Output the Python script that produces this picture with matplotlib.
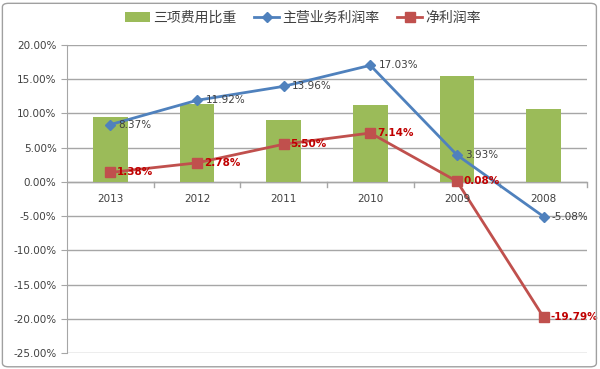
import matplotlib.pyplot as plt
import numpy as np
from matplotlib.patches import FancyBboxPatch
from matplotlib.ticker import FuncFormatter, MultipleLocator

years = ['2013', '2012', '2011', '2010', '2009', '2008']
expense_ratio = [9.5, 11.4, 9.0, 11.2, 15.5, 10.6]
main_margin = [8.37, 11.92, 13.96, 17.03, 3.93, -5.08]
net_margin = [1.38, 2.78, 5.50, 7.14, 0.08, -19.79]

plt.rcParams['font.family'] = ['DejaVu Sans', 'Noto Sans CJK SC']

color_green = '#9BBB59'
color_blue = '#4F81BD'
color_red = '#C0504D'

fig = plt.figure(figsize=(6, 3.69), dpi=100)
ax = fig.add_axes([67/600, 1 - 353/369, 520/600, 308/369])

x = np.arange(len(years))
bars = ax.bar(x, expense_ratio, 0.4, color=color_green, label='三项费用比重', zorder=2)
l1, = ax.plot(x, main_margin, color=color_blue, lw=2, marker='D', ms=5,
              label='主营业务利润率', zorder=3)
l2, = ax.plot(x, net_margin, color=color_red, lw=2, marker='s', ms=7,
              label='净利润率', zorder=3)

for xi, v in zip(x, main_margin):
    ax.annotate(f'{v:.2f}%', (xi, v), xytext=(6, 0), textcoords='offset points',
                va='center', ha='left', fontsize=7.5, color='#404040', zorder=4)
for xi, v in zip(x, net_margin):
    ax.annotate(f'{v:.2f}%', (xi, v), xytext=(5, 0), textcoords='offset points',
                va='center', ha='left', fontsize=7.5, color='#C00000',
                fontweight='bold', zorder=4)

ax.set_xlim(-0.5, len(years) - 0.5)
ax.set_ylim(-25, 20)
ax.yaxis.set_major_locator(MultipleLocator(5))
ax.yaxis.set_major_formatter(FuncFormatter(lambda v, p: f'{v:.2f}%'))
ax.grid(axis='y', color='#A6A6A6', lw=1, zorder=0)
ax.set_axisbelow(True)

for s in ['top', 'right', 'bottom']:
    ax.spines[s].set_visible(False)
ax.spines['left'].set_color('#A6A6A6')
ax.axhline(0, color='#A6A6A6', lw=1, zorder=1)

ax.set_xticks([])
for xi, y in zip(x, years):
    ax.text(xi, -1.7, y, ha='center', va='top', fontsize=7.5, color='#404040')
for b in np.arange(0.5, len(years) - 0.4, 1):
    ax.plot([b, b], [0, -0.8], color='#A6A6A6', lw=1, clip_on=False)
ax.tick_params(axis='y', labelsize=7.5, colors='#404040', length=4, color='#A6A6A6')

leg = fig.legend([bars, l1, l2], ['三项费用比重', '主营业务利润率', '净利润率'],
                 loc='upper center', bbox_to_anchor=(0.505, 1.005), ncol=3,
                 frameon=False, prop={'family': 'Noto Sans CJK SC', 'size': 10},
                 handlelength=1.8, columnspacing=1.3, handletextpad=0.2)
for t in leg.get_texts():
    t.set_color('#404040')

fig.patches.append(FancyBboxPatch((0.004, 0.006), 0.99, 0.985,
                                  boxstyle='round,pad=0,rounding_size=0.01',
                                  transform=fig.transFigure, fill=False,
                                  ec='#A0A0A0', lw=1))

fig.savefig('out.png', dpi=100)
